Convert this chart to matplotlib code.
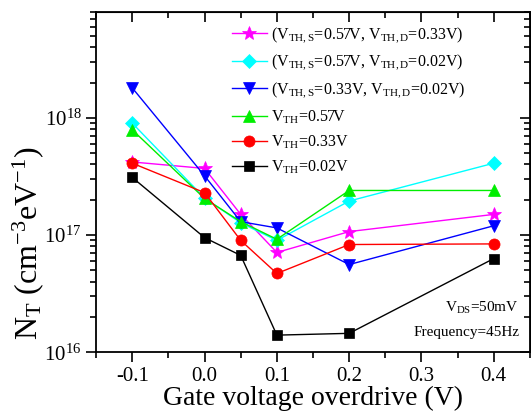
import matplotlib
matplotlib.use('Agg')
import matplotlib.pyplot as plt
import numpy as np
from matplotlib.ticker import LogLocator, MultipleLocator, NullFormatter

plt.rcParams['font.family'] = ['Liberation Serif', 'DejaVu Serif']
plt.rcParams['mathtext.fontset'] = 'custom'
plt.rcParams['mathtext.rm'] = 'Liberation Serif'
plt.rcParams['mathtext.it'] = 'Liberation Serif:italic'
plt.rcParams['mathtext.bf'] = 'Liberation Serif:bold'

# gate voltage overdrive (V)
vov = [-0.1, 0.0, 0.05, 0.1, 0.2, 0.4]

# trap density N_T (cm^-3 eV^-1)
nt_s057_d033 = [4.2e17, 3.7e17, 1.5e17, 7.1e16, 1.07e17, 1.5e17]
nt_s057_d002 = [9.0e17, 2.07e17, 1.27e17, 9.0e16, 1.95e17, 4.1e17]
nt_s033_d002 = [1.8e18, 3.2e17, 1.3e17, 1.15e17, 5.6e16, 1.2e17]
nt_vth057 = [7.9e17, 2.05e17, 1.3e17, 9.2e16, 2.4e17, 2.4e17]
nt_vth033 = [4.1e17, 2.3e17, 9.0e16, 4.7e16, 8.3e16, 8.4e16]
nt_vth002 = [3.1e17, 9.5e16, 6.7e16, 1.4e16, 1.45e16, 6.3e16]

labels = [
    r'$(\mathrm{V_{TH,S}}$=0.57V, $\mathrm{V_{TH,D}}$=0.33V)',
    r'$(\mathrm{V_{TH,S}}$=0.57V, $\mathrm{V_{TH,D}}$=0.02V)',
    r'$(\mathrm{V_{TH,S}}$=0.33V, $\mathrm{V_{TH,D}}$=0.02V)',
    r'$\mathrm{V_{TH}}$=0.57V',
    r'$\mathrm{V_{TH}}$=0.33V',
    r'$\mathrm{V_{TH}}$=0.02V',
]
series = [nt_s057_d033, nt_s057_d002, nt_s033_d002, nt_vth057, nt_vth033, nt_vth002]
colors = ['#ff00ff', '#00ffff', '#0000ff', '#00ee00', '#ff0000', '#000000']
markers = ['*', 'D', 'v', '^', 'o', 's']
msizes = [10, 7, 8, 8, 8, 7]

fig = plt.figure(figsize=(5.31, 4.12), dpi=100)
ax = fig.add_axes([0.181, 0.145, 0.817, 0.826])

for y, lab, c, m, ms in zip(series, labels, colors, markers, msizes):
    ax.plot(vov, y, color=c, marker=m, markersize=ms, linewidth=1.0,
            markeredgewidth=0.5, markeredgecolor=c, label=lab)

ax.set_yscale('log')
ax.set_xlim(-0.15, 0.45)
ax.set_ylim(1e16, 8e18)
ax.xaxis.set_major_locator(MultipleLocator(0.1))
ax.xaxis.set_minor_locator(MultipleLocator(0.05))
ax.xaxis.set_major_formatter(matplotlib.ticker.FuncFormatter(lambda v, p: f'{v:.1f}'))
ax.yaxis.set_major_locator(LogLocator(base=10, numticks=10))
ax.yaxis.set_minor_locator(LogLocator(base=10, subs=np.arange(2, 10), numticks=20))
ax.yaxis.set_minor_formatter(NullFormatter())

ax.tick_params(which='both', direction='out', labelsize=15, width=1.2)
ax.tick_params(which='major', length=7)
ax.tick_params(which='minor', length=4)
for sp in ax.spines.values():
    sp.set_linewidth(1.3)

top = ax.secondary_xaxis('top')
top.xaxis.set_major_locator(MultipleLocator(0.1))
top.xaxis.set_minor_locator(MultipleLocator(0.05))
top.tick_params(which='both', direction='in', labeltop=False, width=1.2)
top.tick_params(which='major', length=7)
top.tick_params(which='minor', length=4)
right = ax.secondary_yaxis('right')
right.yaxis.set_major_locator(LogLocator(base=10, numticks=10))
right.yaxis.set_minor_locator(LogLocator(base=10, subs=np.arange(2, 10), numticks=20))
right.tick_params(which='both', direction='in', labelright=False, width=1.2)
right.tick_params(which='major', length=7)
right.tick_params(which='minor', length=4)

ax.set_xlabel('Gate voltage overdrive (V)', fontsize=20, labelpad=0)
ax.set_ylabel(r'$\mathrm{N_T}$ (cm$^{-3}$eV$^{-1}$)', fontsize=23)
ax.yaxis.set_label_coords(-0.115, 0.32)

ax.legend(loc='upper left', bbox_to_anchor=(0.29, 0.99), frameon=False, fontsize=11.5,
          handlelength=2.2, handletextpad=0.3, labelspacing=0.5, borderaxespad=0.2)

ax.text(0.975, 0.13, r'$\mathrm{V_{DS}}$=50mV', transform=ax.transAxes,
        ha='right', va='center', fontsize=11)
ax.text(0.975, 0.057, 'Frequency=45Hz', transform=ax.transAxes,
        ha='right', va='center', fontsize=11)

fig.savefig('out.png', dpi=100)
